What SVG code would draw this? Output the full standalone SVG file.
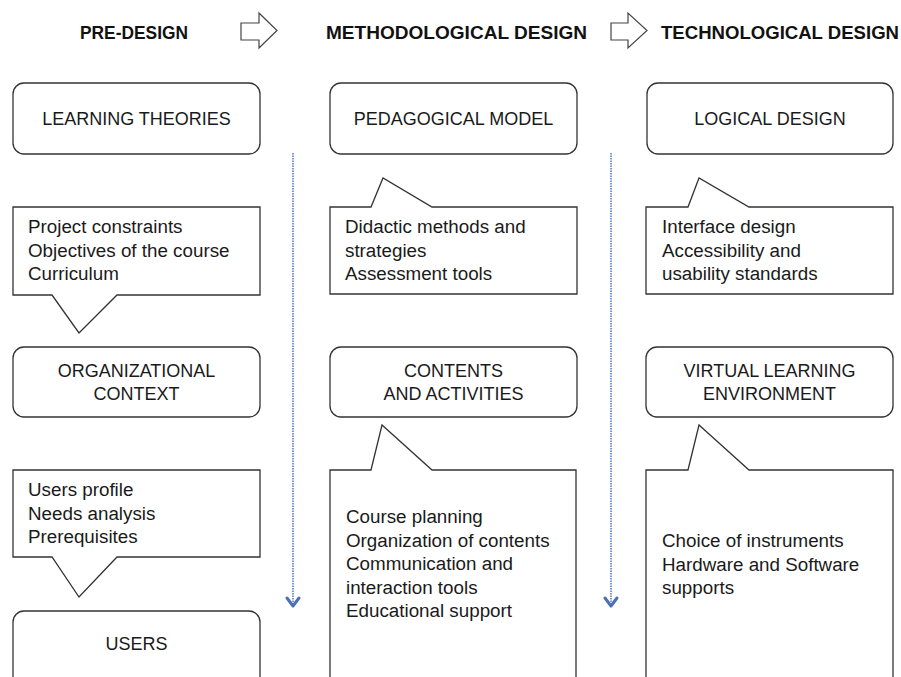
<svg xmlns="http://www.w3.org/2000/svg" width="901" height="677" viewBox="0 0 901 677">
<style>
.hdr{font-family:"Liberation Sans",Arial,sans-serif;font-weight:bold;font-size:18.5px;fill:#111}
.ttl{font-family:"Liberation Sans",Arial,sans-serif;font-size:18px;fill:#1a1a1a;text-anchor:middle}
.txt{font-family:"Liberation Sans",Arial,sans-serif;font-size:18.8px;fill:#1a1a1a}
.box{fill:#fff;stroke:#333;stroke-width:1.3}
.harrow{fill:#fff;stroke:#444;stroke-width:1.2}
.flow{fill:none;stroke:#6a8cd0;stroke-width:1.8;stroke-dasharray:1.5 1}
.chev{fill:none;stroke:#4f6fb3;stroke-width:3;stroke-linecap:round;stroke-linejoin:round}
</style>
<rect width="901" height="677" fill="#fff"/>
<g id="headers">
<text class="hdr" x="80" y="39" textLength="108" lengthAdjust="spacingAndGlyphs">PRE-DESIGN</text>
<polygon class="harrow" points="241,23 259,23 259,13 277,30.5 259,48 259,40 241,40"/>
<text class="hdr" x="326" y="39" textLength="261" lengthAdjust="spacingAndGlyphs">METHODOLOGICAL DESIGN</text>
<polygon class="harrow" points="611,23 628,23 628,13 647,30.5 628,48 628,40 611,40"/>
<text class="hdr" x="661" y="39" textLength="238" lengthAdjust="spacingAndGlyphs">TECHNOLOGICAL DESIGN</text>
</g>
<g id="connectors">
<line class="flow" x1="293" y1="153" x2="293" y2="604"/>
<polyline class="chev" points="287,598 293,606 299,598"/>
<line class="flow" x1="611" y1="153" x2="611" y2="604"/>
<polyline class="chev" points="605,598 611,606 617,598"/>
</g>
<g id="learning-theories">
<rect class="box" x="13" y="83" width="247" height="71" rx="11"/>
<text class="ttl" x="136.5" y="125">LEARNING THEORIES</text>
</g>
<g id="pedagogical-model">
<rect class="box" x="330" y="83" width="247" height="71" rx="11"/>
<text class="ttl" x="453.5" y="125">PEDAGOGICAL MODEL</text>
</g>
<g id="logical-design">
<rect class="box" x="647" y="83" width="246" height="71" rx="11"/>
<text class="ttl" x="770" y="125">LOGICAL DESIGN</text>
</g>
<g id="callout-constraints">
<path class="box" d="M13,207 H260 V295 H117 L79,333 L52,295 H13 Z"/>
<text class="txt" x="28" y="233">Project constraints</text>
<text class="txt" x="28" y="256.5">Objectives of the course</text>
<text class="txt" x="28" y="280">Curriculum</text>
</g>
<g id="callout-didactic">
<path class="box" d="M330,207 H371 L383,178 L432,207 H577 V294 H330 Z"/>
<text class="txt" x="345" y="233">Didactic methods and</text>
<text class="txt" x="345" y="256.5">strategies</text>
<text class="txt" x="345" y="280">Assessment tools</text>
</g>
<g id="callout-interface">
<path class="box" d="M646,207 H688 L699,178 L749,207 H893 V294 H646 Z"/>
<text class="txt" x="662" y="233">Interface design</text>
<text class="txt" x="662" y="256.5">Accessibility and</text>
<text class="txt" x="662" y="280">usability standards</text>
</g>
<g id="organizational-context">
<rect class="box" x="13" y="347" width="247" height="70" rx="11"/>
<text class="ttl" x="136.5" y="377">ORGANIZATIONAL</text>
<text class="ttl" x="136.5" y="400">CONTEXT</text>
</g>
<g id="contents-activities">
<rect class="box" x="330" y="347" width="247" height="70" rx="11"/>
<text class="ttl" x="453.5" y="377">CONTENTS</text>
<text class="ttl" x="453.5" y="400">AND ACTIVITIES</text>
</g>
<g id="virtual-learning-environment">
<rect class="box" x="646" y="347" width="247" height="70" rx="11"/>
<text class="ttl" x="769.5" y="377">VIRTUAL LEARNING</text>
<text class="ttl" x="769.5" y="400">ENVIRONMENT</text>
</g>
<g id="callout-users">
<path class="box" d="M13,470 H260 V557 H117 L79,597 L52,557 H13 Z"/>
<text class="txt" x="28" y="496">Users profile</text>
<text class="txt" x="28" y="519.5">Needs analysis</text>
<text class="txt" x="28" y="543">Prerequisites</text>
</g>
<g id="callout-planning">
<path class="box" d="M330,690 V470 H371 L382,425 L432,470 H576 V690"/>
<text class="txt" x="346" y="523">Course planning</text>
<text class="txt" x="346" y="546.5">Organization of contents</text>
<text class="txt" x="346" y="570">Communication and</text>
<text class="txt" x="346" y="593.5">interaction tools</text>
<text class="txt" x="346" y="617">Educational support</text>
</g>
<g id="callout-instruments">
<path class="box" d="M646,690 V470 H688 L699,425 L749,470 H893 V690"/>
<text class="txt" x="662" y="547">Choice of instruments</text>
<text class="txt" x="662" y="570.5">Hardware and Software</text>
<text class="txt" x="662" y="594">supports</text>
</g>
<g id="users">
<rect class="box" x="13" y="611" width="247" height="90" rx="11"/>
<text class="ttl" x="136.5" y="650">USERS</text>
</g>
</svg>
